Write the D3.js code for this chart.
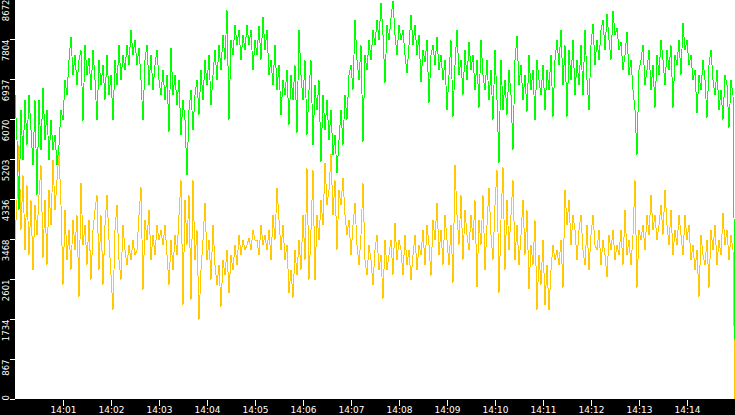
<!DOCTYPE html>
<html><head><meta charset="utf-8">
<script src="https://cdn.jsdelivr.net/npm/d3@7"></script>
<style>html,body{margin:0;padding:0;background:#fff;overflow:hidden}</style>
</head><body><svg id="c" width="735" height="415"></svg>
<script>
// ---- data ----
const startTime = "2024-01-01T14:00:00";
const endTime = "2024-01-01T14:15:00";
const sampleMs = 2500;
const yMax = 8672;
const yTickValues = [0, 867.2, 1734.4, 2601.6, 3468.8, 4336, 5203.2, 6070.4, 6937.6, 7804.8, 8672];
const yTickLabels = ["0", "867", "1734", "2601", "3468", "4336", "5203", "6070", "6937", "7804", "8672"];
const xTickLabels = ["14:01","14:02","14:03","14:04","14:05","14:06","14:07","14:08","14:09","14:10","14:11","14:12","14:13","14:14"];

const greenValues = [
6590,5615,4097,6265,5181,6482,
5506,6590,5832,5073,6482,
4422,6482,5398,6742,5615,
6265,5181,6048,5398,5723,5073,
5506,6265,6048,6916,6590,
7349,7848,7024,7458,6807,7349,7566,
6027,7674,7024,7393,6699,7566,
6916,6048,7349,6807,7241,6482,7458,
6590,7024,6048,7349,6807,7674,6916,7458,7132,
7674,7241,8000,7458,7783,7241,7609,6916,
6048,7349,7674,6807,7458,6699,7241,7566,
6916,6590,7132,6482,7024,5788,7609,
6590,7024,6374,6916,5723,6482,6048,4856,6265,6699,
5832,6590,6916,6157,7132,6482,7349,6807,7458,6374,7024,7566,
6916,7674,7132,7891,7349,8433,6048,7783,
7458,8108,7674,8000,7349,7891,7566,8108,7674,8000,7132,7783,
7458,8086,7349,8281,7566,8000,
7024,7349,6807,7674,6699,7241,6157,
6916,6590,7132,5940,7024,6482,7241,5767,
8000,7024,6482,7349,5723,
6699,7349,5506,6807,6265,6916,5138,6590,5832,
6482,5615,6265,5290,5723,4899,5615,6265,5506,
6590,6048,7024,7241,6699,8216,7349,6916,7674,5571,7458,
7132,7783,7349,8000,7674,8216,7783,8585,7891,6851,8108,
7783,8260,8628,7891,7458,8108,7783,8000,7458,7067,7674,8325,
7674,8108,7458,7891,6872,7566,7306,7783,6417,7458,7674,7241,
7848,7132,7458,6916,7349,6265,7024,7783,6113,7241,
8000,7024,7349,6590,7566,6916,7739,7132,7458,6699,
7349,6309,7783,7024,6699,7349,6482,7132,6048,7566,
6482,5116,7349,6265,6916,6157,
7132,6590,5398,7349,7870,
6807,7241,6482,7024,6222,7458,6699,7132,6048,7349,
6916,6590,7241,6265,7132,6699,7458,6113,7349,
7783,7241,8000,6807,7674,6113,7566,6916,7783,6590,
7349,6807,7674,6590,8000,6916,6265,7674,8130,7241,
7783,7349,8000,8216,7566,8346,7783,7349,8412,7891,8043,7566,
7739,7132,7458,7956,7024,7349,6699,6265,5290,7132,
7349,7674,6807,7132,7566,6699,7241,6309,7458,7024,7783,
7349,6807,7566,7132,7674,6309,7458,7241,7783,7024,8151,7566,7783,
7241,7458,6916,7132,6200,7024,6699,7349,6916,6092,7241,7566,
6916,6590,7132,6265,6699,6048,7024,6807,5875,6916,6590,1279
];

const yellowValues = [
3447,4314,5506,3664,4856,3230,
4639,3122,4314,2796,4206,
3555,4422,5073,3057,4314,
2905,4531,3772,5181,4097,4748,5355,
4206,2471,4097,3013,
3664,2796,3880,3230,3989,2211,4683,
3338,3772,2905,3880,2580,3664,4097,
4422,2796,3989,2471,3772,4422,
3447,2688,1929,3664,4206,3013,2580,3772,3230,
2905,3338,3013,3447,3122,3230,3989,4596,
2363,3880,3447,4097,3013,3555,3122,3772,
3447,3664,3338,3772,3122,2471,3447,
2796,3555,3122,3989,4748,2038,4314,3338,4422,2146,
4748,3013,3664,1712,2796,3447,4249,3013,3447,2580,3772,2905,
2471,2905,1994,3013,2688,3230,2298,3122,
2796,3338,2905,3555,3122,3447,3230,3338,3490,3230,3664,3447,
3447,3122,3772,3338,3555,3230,
3664,3013,3989,3447,4574,3880,3230,
3772,3013,3338,2298,2796,2189,3230,2688,3447,
2796,3989,3013,5008,2580,3664,4964,2580,
3989,3447,4314,3772,5116,4206,
4531,5311,3989,4748,3230,4531,4206,4791,
3989,3555,3880,3122,3772,4249,3338,2905,3555,4683,3013,
2688,3338,3013,2471,3230,3555,2796,3122,2168,3447,2796,
3122,3447,2688,3815,3013,3447,3230,2688,3555,2905,3230,2580,
3122,3555,2796,3338,3122,3664,2905,3772,3338,2666,3880,3447,
4249,3122,3664,2905,3989,3447,2905,3772,2514,5073,
3989,3338,4422,3013,4097,3555,3230,3989,3447,4314,
2428,3880,3338,4422,2796,3772,4574,3555,3013,4206,
4964,2298,3880,5030,2796,4314,
3230,3989,4748,3013,3772,
2905,3555,4314,3122,4097,2384,3338,2905,3880,1929,
3122,2471,3447,2038,2905,1929,2796,3338,3013,
3230,2905,3447,2406,4531,3772,4314,3338,3989,3664,
3013,3664,3989,3230,2905,3772,2796,3555,3989,3338,
3230,3664,2905,3447,3122,2645,3555,3230,3664,3013,3338,3122,
3664,2905,4097,3122,3447,2905,3555,4748,2406,3664,
3447,3772,3230,3989,3555,4422,3664,3989,3447,3772,4206,
3555,4531,3772,3338,4097,3122,3664,3338,3989,3555,3122,3989,3447,
3772,3013,3338,2796,3230,2211,3555,3122,2905,3447,2406,3664,
3230,3772,2905,3447,3122,4032,3338,3664,3013,3555,3230,0
];

// ---- chart ----
const W = 735, H = 415, plotLeft = 15, plotBottom = 399;
const svg = d3.select("#c");
const t0 = new Date(startTime), t1 = new Date(endTime);
const x = d3.scaleTime().domain([t0, t1]).range([plotLeft, W]);
const y = d3.scaleLinear().domain([0, yMax]).range([plotBottom, -1]);

svg.append("rect").attr("x", 0).attr("y", 0).attr("width", W).attr("height", H).attr("fill", "#fff");

svg.append("clipPath").attr("id", "plotclip")
  .append("rect").attr("x", plotLeft).attr("y", 0).attr("width", W - plotLeft).attr("height", plotBottom);

const plot = svg.append("g").attr("clip-path", "url(#plotclip)");
const line = d3.line()
  .x((d, i) => x(new Date(t0.getTime() + i * sampleMs)))
  .y(d => y(d));

plot.append("path").datum(yellowValues)
  .attr("d", line).attr("fill", "none").attr("stroke", "#ffc800")
  .attr("stroke-width", 1).attr("shape-rendering", "crispEdges");
plot.append("path").datum(greenValues)
  .attr("d", line).attr("fill", "none").attr("stroke", "#00ff00")
  .attr("stroke-width", 1).attr("shape-rendering", "crispEdges");

// black strips
svg.append("rect").attr("x", 0).attr("y", 0).attr("width", plotLeft).attr("height", H).attr("fill", "#000");
svg.append("rect").attr("x", 0).attr("y", plotBottom).attr("width", W).attr("height", H - plotBottom).attr("fill", "#000");

// x axis
const xTicks = xTickLabels.map(s => { const [h, m] = s.split(":"); const d = new Date(t0); d.setHours(+h, +m, 0, 0); return d; });
const xAxis = d3.axisBottom(x).tickValues(xTicks).tickSize(6).tickPadding(1)
  .tickFormat((d, i) => xTickLabels[i]);
const gx = svg.append("g").attr("transform", `translate(0,${plotBottom + 0.5})`).call(xAxis);
gx.select(".domain").remove();
gx.selectAll(".tick line").attr("stroke", "#fff").attr("shape-rendering", "crispEdges");
gx.selectAll(".tick text").attr("fill", "#fff").attr("font-family", "DejaVu Sans, sans-serif")
  .attr("font-size", "9px").attr("dy", "0").attr("y", 13.5);

// y axis
const yAxis = d3.axisLeft(y).tickValues(yTickValues).tickSize(5)
  .tickFormat((d, i) => yTickLabels[i]);
const gy = svg.append("g").attr("transform", `translate(${plotLeft},0)`).call(yAxis);
gy.select(".domain").remove();
gy.selectAll(".tick line").attr("stroke", "#fff").attr("shape-rendering", "crispEdges");
gy.selectAll(".tick text")
  .attr("fill", "#fff").attr("font-family", "DejaVu Sans, sans-serif").attr("font-size", "8.5px")
  .attr("text-anchor", "end").attr("dy", "0").attr("y", 0)
  .attr("transform", "translate(-6.3,0) rotate(-90)")
  .each(function(d) {
    const ty = y(d);
    const len = this.getComputedTextLength();
    const s = Math.max(0, ty + len - 400);
    d3.select(this).attr("x", s);
  });
</script></body></html>
